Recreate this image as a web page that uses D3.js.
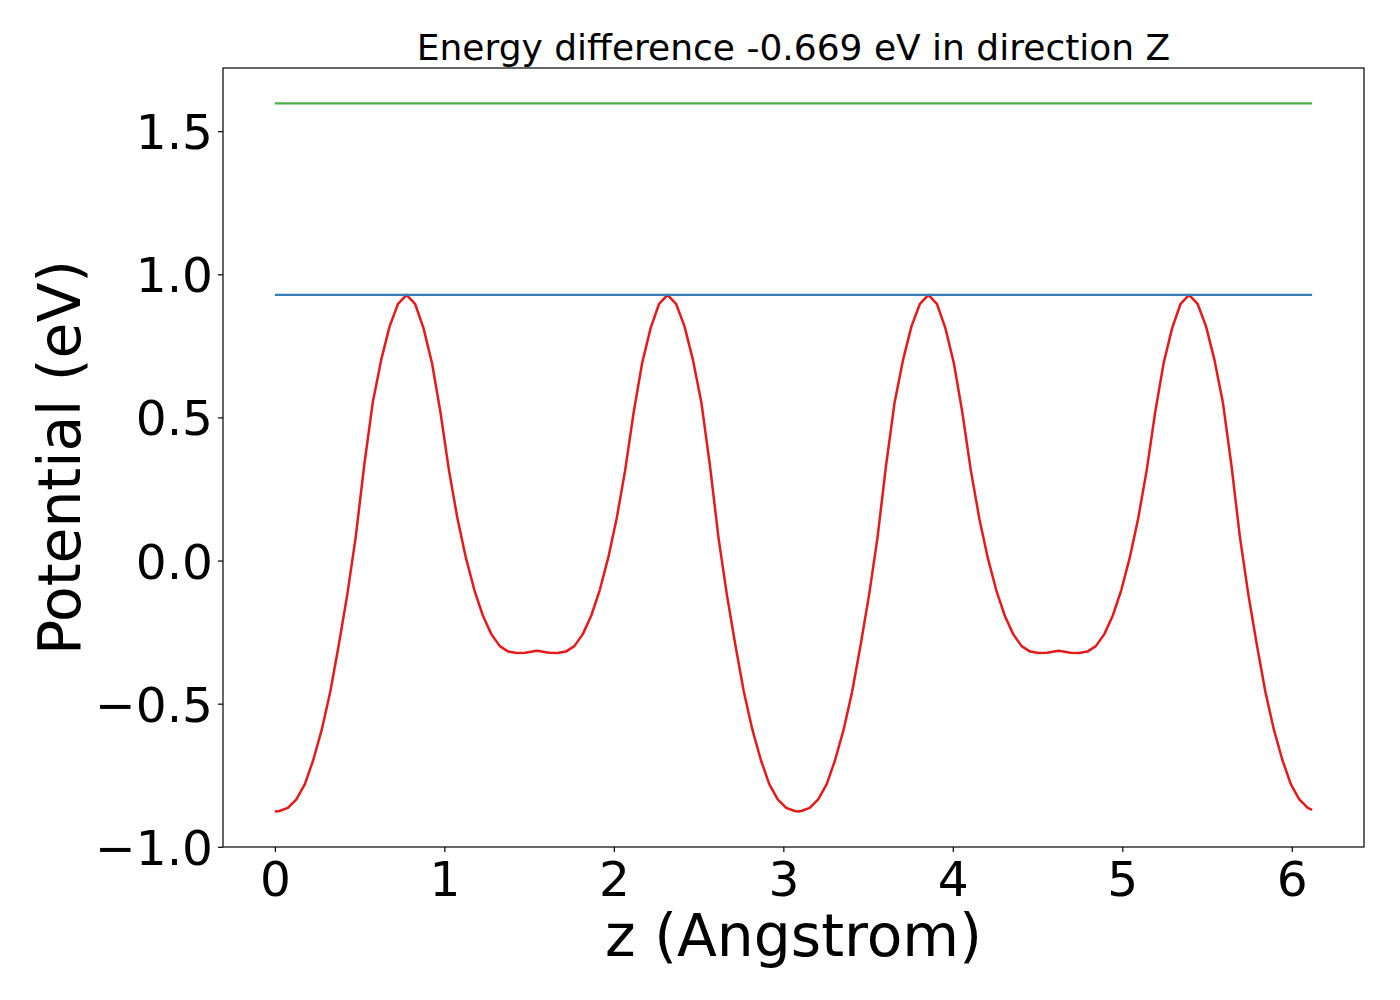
<!DOCTYPE html>
<html>
<head>
<meta charset="utf-8">
<script src="https://cdn.jsdelivr.net/npm/d3@7"></script>
<style>
	body { margin: 0; background: #fff; }
	text { font-family: "DejaVu Sans", sans-serif; fill: #000; }
</style>
</head>
<body>
<div id="chart"></div>
<script>
// positions along z (Angstrom)
var zValues = [
	0, 0.027, 0.077, 0.127, 0.177, 0.227, 0.277, 0.327, 0.377, 0.427, 0.477, 0.527, 0.577, 0.627, 0.677, 0.727, 0.777,
	0.827, 0.877, 0.927, 0.977, 1.027, 1.077, 1.127, 1.177, 1.227, 1.277, 1.327, 1.377, 1.427, 1.477, 1.547,
	1.617, 1.667, 1.717, 1.767, 1.817, 1.867, 1.917, 1.967, 2.017, 2.067, 2.117, 2.167, 2.217, 2.267, 2.317,
	2.367, 2.417, 2.467, 2.517, 2.567, 2.617, 2.667, 2.717, 2.767, 2.817, 2.867, 2.917, 2.967, 3.017, 3.067, 3.087,
	3.106, 3.156, 3.206, 3.256, 3.306, 3.356, 3.406, 3.456, 3.506, 3.556, 3.606, 3.656, 3.706, 3.756, 3.806, 3.856,
	3.906, 3.956, 4.006, 4.056, 4.106, 4.156, 4.206, 4.256, 4.306, 4.356, 4.406, 4.456, 4.506, 4.556, 4.625,
	4.694, 4.744, 4.794, 4.844, 4.894, 4.944, 4.994, 5.044, 5.094, 5.144, 5.194, 5.244, 5.294, 5.344, 5.394,
	5.444, 5.494, 5.544, 5.594, 5.644, 5.694, 5.744, 5.794, 5.844, 5.894, 5.944, 5.994, 6.044, 6.094, 6.120
];

// potential (eV) at each z
var potential = [
	-0.877, -0.875, -0.864, -0.834, -0.781, -0.696, -0.590, -0.458, -0.295, -0.120, 0.082, 0.332, 0.550, 0.700, 0.818, 0.897, 0.928,
	0.897, 0.812, 0.690, 0.518, 0.316, 0.148, 0.010, -0.103, -0.192, -0.257, -0.299, -0.318, -0.323, -0.322, -0.315,
	-0.322, -0.323, -0.318, -0.299, -0.257, -0.192, -0.103, 0.010, 0.148, 0.316, 0.518, 0.690, 0.812, 0.897, 0.928,
	0.897, 0.818, 0.700, 0.550, 0.332, 0.082, -0.120, -0.295, -0.458, -0.590, -0.696, -0.781, -0.834, -0.864, -0.875, -0.877,
	-0.875, -0.864, -0.834, -0.781, -0.696, -0.590, -0.458, -0.295, -0.120, 0.082, 0.332, 0.550, 0.700, 0.818, 0.897, 0.928,
	0.897, 0.812, 0.690, 0.518, 0.316, 0.148, 0.010, -0.103, -0.192, -0.257, -0.299, -0.318, -0.323, -0.322, -0.315,
	-0.322, -0.323, -0.318, -0.299, -0.257, -0.192, -0.103, 0.010, 0.148, 0.316, 0.518, 0.690, 0.812, 0.897, 0.928,
	0.897, 0.818, 0.700, 0.550, 0.332, 0.082, -0.120, -0.295, -0.458, -0.590, -0.696, -0.781, -0.834, -0.864, -0.871
];

// horizontal reference levels (eV)
var levelNames = ["vacuum", "max"];
var levelValues = [1.597, 0.928];
var levelColors = ["#4daf4a", "#377eb8"];

var xTicks = [0, 1, 2, 3, 4, 5, 6];
var yTicks = [-1.0, -0.5, 0.0, 0.5, 1.0, 1.5];

var titleText = "Energy difference -0.669 eV in direction Z";
var xLabel = "z (Angstrom)";
var yLabel = "Potential (eV)";

var conf = {
	width: 1400, height: 1000,
	left: 223, right: 1364, top: 68, bottom: 847
};

var svg = d3.select("#chart").append("svg")
	.attr("width", conf.width)
	.attr("height", conf.height);

// matplotlib style 5% margins around the data
var zMin = d3.min(zValues), zMax = d3.max(zValues);
var vMin = d3.min(potential.concat(levelValues)), vMax = d3.max(potential.concat(levelValues));
var zPad = (zMax - zMin) * 0.05, vPad = (vMax - vMin) * 0.05;

var x = d3.scaleLinear()
	.domain([zMin - zPad, zMax + zPad])
	.range([conf.left, conf.right]);

var y = d3.scaleLinear()
	.domain([vMin - vPad, vMax + vPad])
	.range([conf.bottom, conf.top]);

var points = zValues.map(function(z, i) { return { z: z, v: potential[i] }; });

var line = d3.line()
	.x(function(d) { return x(d.z); })
	.y(function(d) { return y(d.v); });

svg.append("path")
	.datum(points)
	.attr("d", line)
	.attr("fill", "none")
	.attr("stroke", "#e41a1c")
	.attr("stroke-width", 2.5)
	.attr("stroke-linejoin", "round");

levelValues.forEach(function(v, i) {
	svg.append("line")
		.attr("class", "level-" + levelNames[i])
		.attr("x1", x(zMin))
		.attr("x2", x(zMax))
		.attr("y1", y(v))
		.attr("y2", y(v))
		.attr("stroke", levelColors[i])
		.attr("stroke-width", 2.2);
});

// axes
var xAxis = d3.axisBottom(x)
	.tickValues(xTicks)
	.tickSize(5)
	.tickPadding(6)
	.tickFormat(d3.format("d"));

var yAxis = d3.axisLeft(y)
	.tickValues(yTicks)
	.tickSize(5)
	.tickPadding(6)
	.tickFormat(function(d) { return d3.format(".1f")(d).replace("-", "\u2212"); });

var gx = svg.append("g")
	.attr("transform", "translate(0," + conf.bottom + ")")
	.call(xAxis);
gx.select(".domain").remove();
gx.selectAll("line").attr("stroke", "#000").attr("stroke-width", 1.2);
gx.selectAll("text")
	.attr("font-size", "48.6px")
	.attr("dy", null)
	.attr("y", 49);

var gy = svg.append("g")
	.attr("transform", "translate(" + conf.left + ",0)")
	.call(yAxis);
gy.select(".domain").remove();
gy.selectAll("line").attr("stroke", "#000").attr("stroke-width", 1.2);
gy.selectAll("text")
	.attr("font-size", "48.6px")
	.attr("dy", null)
	.attr("x", -10)
	.attr("y", 17.5);

svg.selectAll(".tick text").attr("fill", "#000").style("font-family", "'DejaVu Sans', sans-serif");

// frame
svg.append("rect")
	.attr("x", conf.left)
	.attr("y", conf.top)
	.attr("width", conf.right - conf.left)
	.attr("height", conf.bottom - conf.top)
	.attr("fill", "none")
	.attr("stroke", "#000")
	.attr("stroke-width", 1.2);

svg.append("text")
	.attr("x", (conf.left + conf.right) / 2)
	.attr("y", 60)
	.attr("text-anchor", "middle")
	.attr("font-size", "36px")
	.text(titleText);

svg.append("text")
	.attr("x", (conf.left + conf.right) / 2)
	.attr("y", 956)
	.attr("text-anchor", "middle")
	.attr("font-size", "58.3px")
	.text(xLabel);

svg.append("text")
	.attr("transform", "translate(80," + ((conf.top + conf.bottom) / 2) + ") rotate(-90)")
	.attr("text-anchor", "middle")
	.attr("font-size", "58.3px")
	.text(yLabel);
</script>
</body>
</html>
